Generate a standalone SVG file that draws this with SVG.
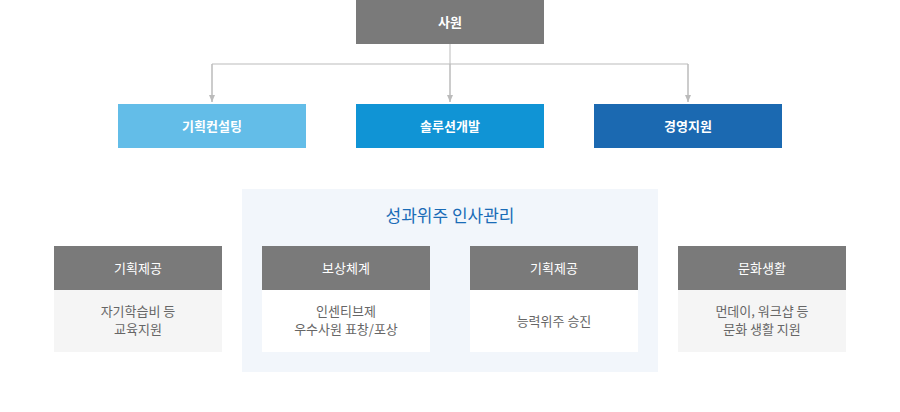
<svg xmlns="http://www.w3.org/2000/svg" width="900" height="412" viewBox="0 0 900 412">
<style>
text{font-family:"Noto Sans CJK KR","Noto Sans",sans-serif;text-anchor:middle}
.h{fill:#7a7a7a}
.wt{fill:#fff;font-size:13px}
.wb{fill:#fff;font-size:13px;font-weight:bold}
.bt{fill:#666;font-size:13px}
.ln{fill:none;stroke:#bbbbbb;stroke-width:1}
</style>
<defs>
<marker id="ar" markerWidth="8" markerHeight="6" refX="7" refY="3" orient="auto" markerUnits="userSpaceOnUse">
<path d="M0,0 L7,3 L0,6 Z" fill="#bbbbbb"/>
</marker>
</defs>
<g id="connectors">
<path class="ln" d="M450,44 V102"/>
<path class="ln" d="M212,102 V64 H688 V102"/>
<path class="ln" d="M212,64 V102" marker-end="url(#ar)"/>
<path class="ln" d="M450,64 V102" marker-end="url(#ar)"/>
<path class="ln" d="M688,64 V102" marker-end="url(#ar)"/>
</g>
<g id="n-sawon"><rect class="h" x="356" y="0" width="188" height="44"/><text class="wb" x="450" y="26.5">사원</text></g>
<g id="n-consult"><rect x="118" y="104" width="188" height="44" fill="#63bde8"/><text class="wb" x="212" y="130.5">기획컨설팅</text></g>
<g id="n-solution"><rect x="356" y="104" width="188" height="44" fill="#1094d5"/><text class="wb" x="450" y="130.5">솔루션개발</text></g>
<g id="n-mgmt"><rect x="594" y="104" width="188" height="44" fill="#1b69b1"/><text class="wb" x="688" y="130.5">경영지원</text></g>
<g id="panel"><rect x="242" y="189" width="416" height="183" fill="#f2f6fb"/><text x="450" y="222" font-size="17" fill="#1a6cb7">성과위주 인사관리</text></g>
<g id="n-opp1"><rect class="h" x="54" y="246" width="168" height="44"/><text class="wt" x="138" y="272.5">기획제공</text><rect x="54" y="290" width="168" height="62" fill="#f5f5f5"/><text class="bt" x="138" y="316">자기학습비 등</text><text class="bt" x="138" y="334">교육지원</text></g>
<g id="n-reward"><rect class="h" x="262" y="246" width="168" height="44"/><text class="wt" x="346" y="272.5">보상체계</text><rect x="262" y="290" width="168" height="62" fill="#ffffff"/><text class="bt" x="346" y="316">인센티브제</text><text class="bt" x="346" y="334">우수사원 표창/포상</text></g>
<g id="n-opp2"><rect class="h" x="470" y="246" width="168" height="44"/><text class="wt" x="554" y="272.5">기획제공</text><rect x="470" y="290" width="168" height="62" fill="#ffffff"/><text class="bt" x="554" y="325.5">능력위주 승진</text></g>
<g id="n-culture"><rect class="h" x="678" y="246" width="168" height="44"/><text class="wt" x="762" y="272.5">문화생활</text><rect x="678" y="290" width="168" height="62" fill="#f5f5f5"/><text class="bt" x="762" y="316">먼데이, 워크샵 등</text><text class="bt" x="762" y="334">문화 생활 지원</text></g>
</svg>
